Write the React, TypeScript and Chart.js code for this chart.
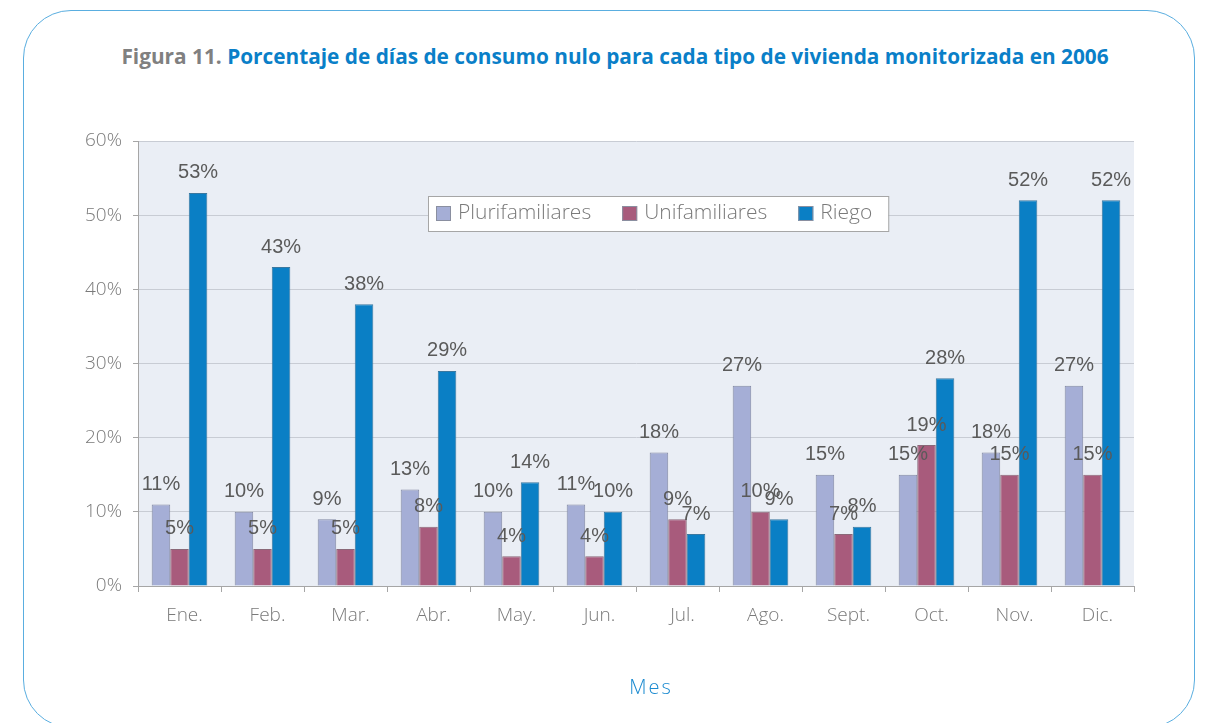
import React, { useEffect, useRef } from "react";
import { Chart, registerables } from "chart.js";

Chart.register(...registerables);

const months = ["Ene.", "Feb.", "Mar.", "Abr.", "May.", "Jun.", "Jul.", "Ago.", "Sept.", "Oct.", "Nov.", "Dic."];
const plurifamiliares = [11, 10, 9, 13, 10, 11, 18, 27, 15, 15, 18, 27];
const unifamiliares = [5, 5, 5, 8, 4, 4, 9, 10, 7, 19, 15, 15];
const riego = [53, 43, 38, 29, 14, 10, 7, 9, 8, 28, 52, 52];
const yTicks = [0, 10, 20, 30, 40, 50, 60];

const UI_FONT = '"Open Sans", "Noto Sans", sans-serif';

const valueLabels = {
  id: "valueLabels",
  afterDatasetsDraw(chart: any) {
    const ctx = chart.ctx;
    ctx.save();
    ctx.font = '20px "Liberation Sans", Arial, sans-serif';
    ctx.fillStyle = "#5a5a5a";
    ctx.textAlign = "center";
    ctx.textBaseline = "middle";
    chart.data.datasets.forEach((ds: any, i: number) => {
      const meta = chart.getDatasetMeta(i);
      meta.data.forEach((el: any, j: number) => {
        ctx.fillText(`${ds.data[j]}%`, el.x, el.y - 20);
      });
    });
    ctx.restore();
  },
};

const boxLegend = {
  id: "boxLegend",
  afterDraw(chart: any) {
    const ctx = chart.ctx;
    const area = chart.chartArea;
    ctx.save();
    ctx.font = `300 21px ${UI_FONT}`;
    const left = area.left + 290;
    const top = area.top + 55;
    const h = 35;
    const marker = 15;
    const padL = 8;
    const padR = 16;
    const gapText = 7;
    const gapItem = 31;
    const items = chart.data.datasets.map((ds: any) => ({
      label: ds.label,
      color: ds.backgroundColor,
      w: ctx.measureText(ds.label).width,
    }));
    let total = padL + padR;
    items.forEach((it: any, i: number) => {
      total += marker + gapText + it.w + (i < items.length - 1 ? gapItem : 0);
    });
    ctx.fillStyle = "#ffffff";
    ctx.fillRect(left, top, total, h);
    ctx.strokeStyle = "#a6a6a6";
    ctx.lineWidth = 1;
    ctx.strokeRect(left + 0.5, top + 0.5, total, h);
    let x = left + padL;
    const cy = top + h / 2;
    ctx.textBaseline = "middle";
    ctx.textAlign = "left";
    items.forEach((it: any) => {
      ctx.fillStyle = it.color;
      ctx.fillRect(x, cy - marker / 2, marker, marker);
      ctx.strokeStyle = "#8a8fa0";
      ctx.strokeRect(x + 0.5, cy - marker / 2 + 0.5, marker - 1, marker - 1);
      x += marker + gapText;
      ctx.fillStyle = "#7a7a7a";
      ctx.fillText(it.label, x, cy);
      x += it.w + gapItem;
    });
    ctx.restore();
  },
};

const plotBackground = {
  id: "plotBackground",
  beforeDraw(chart: any) {
    const { ctx, chartArea } = chart;
    ctx.save();
    ctx.fillStyle = "#eaeef5";
    ctx.fillRect(chartArea.left, chartArea.top, chartArea.right - chartArea.left, chartArea.bottom - chartArea.top);
    ctx.restore();
  },
};

export default function App() {
  const canvasRef = useRef<HTMLCanvasElement | null>(null);

  useEffect(() => {
    if (!canvasRef.current) return;
    const chart = new Chart(canvasRef.current, {
      type: "bar",
      data: {
        labels: months,
        datasets: [
          { label: "Plurifamiliares", data: plurifamiliares, backgroundColor: "#a5aed6", borderColor: "#8289a3", borderWidth: 1 },
          { label: "Unifamiliares", data: unifamiliares, backgroundColor: "#a85b7c", borderColor: "#8a6878", borderWidth: 1 },
          { label: "Riego", data: riego, backgroundColor: "#0a7fc5", borderColor: "#3a78a0", borderWidth: 1 },
        ],
      },
      options: {
        animation: false,
        responsive: false,
        devicePixelRatio: 1,
        layout: { padding: { left: 0, right: 74, top: 141, bottom: 0 } },
        plugins: {
          legend: { display: false },
          tooltip: { enabled: false },
          title: { display: false },
        },
        datasets: {
          bar: { categoryPercentage: 0.67, barPercentage: 1 },
        },
        scales: {
          x: {
            offset: true,
            grid: { display: true, drawOnChartArea: false, drawTicks: true, tickLength: 6, color: "#a6a6a6", offset: true },
            border: { color: "#a6a6a6" },
            ticks: { color: "#7a7a7a", font: { family: UI_FONT, size: 19, weight: 300 }, padding: 12, labelOffset: 5, maxRotation: 0, autoSkip: false },
            afterFit: (s: any) => { s.height = 137; },
          },
          y: {
            min: 0,
            max: 60,
            afterBuildTicks: (s: any) => { s.ticks = yTicks.map((v) => ({ value: v })); },
            grid: { color: "#c8ccd4", tickColor: "#a6a6a6", tickLength: 5 },
            border: { color: "#a6a6a6" },
            ticks: { color: "#7a7a7a", font: { family: UI_FONT, size: 19, weight: 300 }, padding: 11, callback: (v: any) => `${v}%` },
            afterFit: (s: any) => { s.width = 138; },
          },
        },
      },
      plugins: [plotBackground, valueLabels, boxLegend],
    });
    return () => chart.destroy();
  }, []);

  return (
    <div style={{ position: "absolute", left: 0, top: 0, width: 1208, height: 723, overflow: "hidden", background: "#fff" }}>
      <div
        style={{
          position: "absolute",
          left: 23,
          top: 10,
          width: 1170,
          height: 716,
          border: "1px solid #5aaee0",
          borderRadius: 48,
        }}
      />
      <div
        style={{
          position: "absolute",
          left: 0,
          width: 1230,
          top: 41,
          textAlign: "center",
          fontFamily: UI_FONT,
          fontWeight: 700,
          fontSize: 20.8,
          lineHeight: "30px",
          whiteSpace: "nowrap",
        }}
      >
        <span style={{ color: "#808080" }}>Figura 11.</span>
        <span style={{ color: "#0a7fc8" }}>{"  Porcentaje de días de consumo nulo para cada tipo de vivienda monitorizada en 2006"}</span>
      </div>
      <canvas ref={canvasRef} width={1208} height={723} style={{ position: "absolute", left: 0, top: 0, width: 1208, height: 723 }} />
      <div
        style={{
          position: "absolute",
          left: 551,
          width: 200,
          top: 673,
          textAlign: "center",
          fontFamily: UI_FONT,
          fontSize: 20,
          fontWeight: 300,
          letterSpacing: 2,
          color: "#1a8ad0",
          lineHeight: "28px",
        }}
      >
        Mes
      </div>
    </div>
  );
}
